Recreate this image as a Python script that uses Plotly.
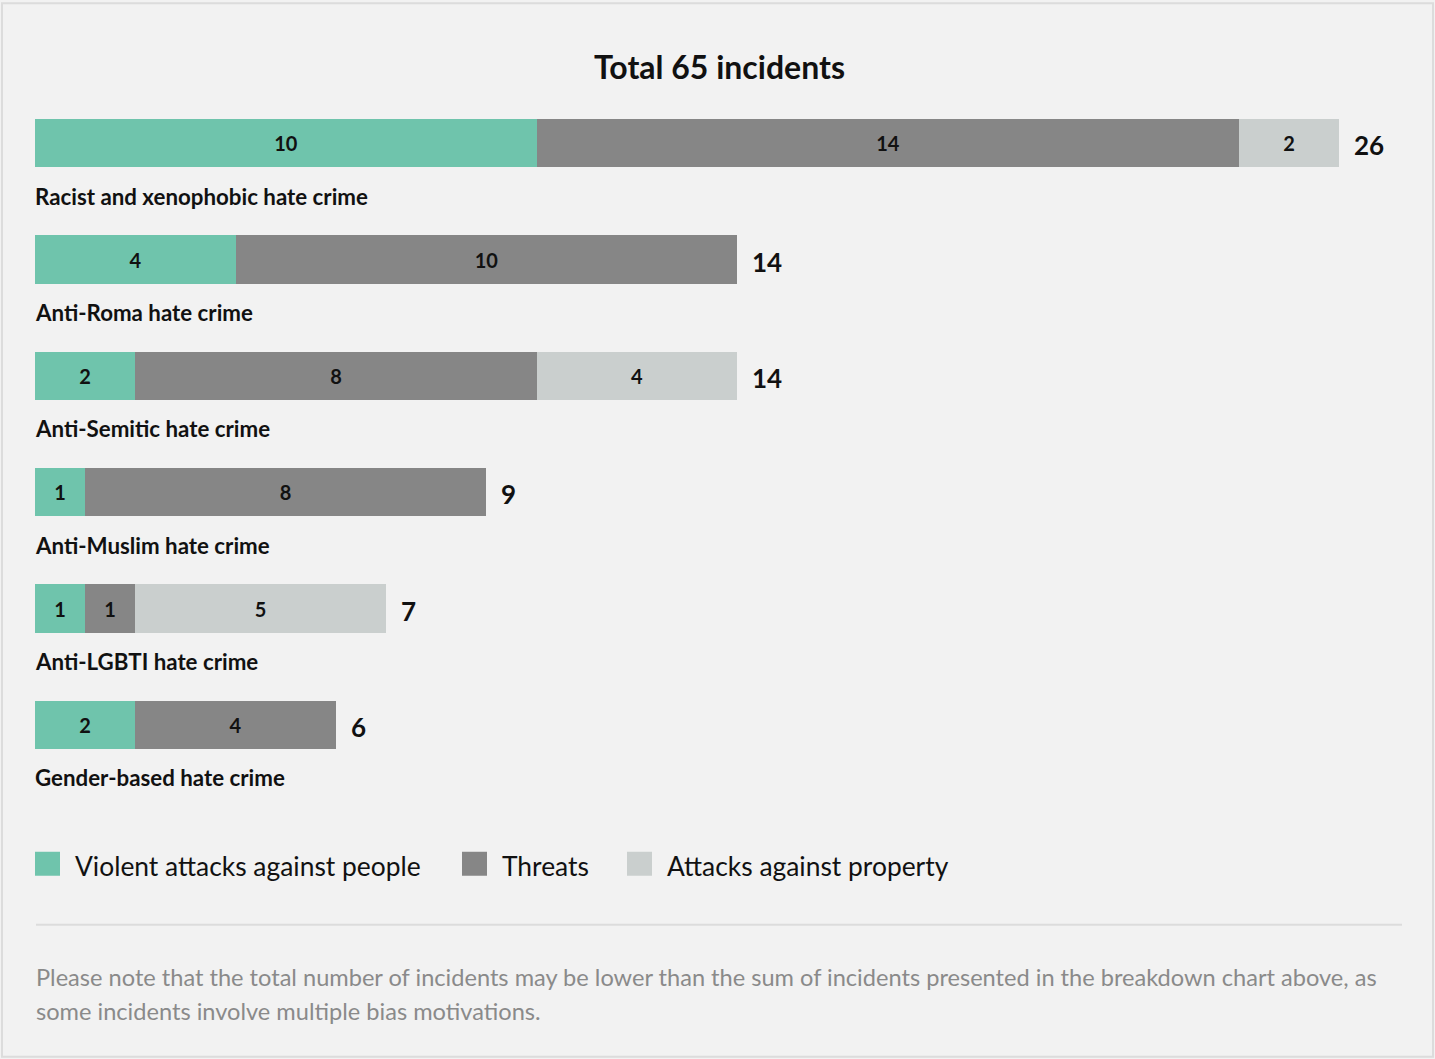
import plotly.graph_objects as go

categories = [
    "Racist and xenophobic hate crime",
    "Anti-Roma hate crime",
    "Anti-Semitic hate crime",
    "Anti-Muslim hate crime",
    "Anti-LGBTI hate crime",
    "Gender-based hate crime",
]
violent = [10, 4, 2, 1, 1, 2]
threats = [14, 10, 8, 8, 1, 4]
property_ = [2, 0, 4, 0, 5, 0]
totals = [26, 14, 14, 9, 7, 6]
series_names = ["Violent attacks against people", "Threats", "Attacks against property"]
series_colors = ["#6fc4ac", "#868686", "#cacfce"]
title_text = "Total 65 incidents"
note_lines = [
    "Please note that the total number of incidents may be lower than the sum of incidents presented in the breakdown chart above, as",
    "some incidents involve multiple bias motivations.",
]

FONT = "Lato, 'Noto Sans', sans-serif"
W, H = 1435, 1059
L, R = 35, 1339          # plot area x pixels
T, B = 84.8, 783.2       # plot area y pixels


def px(x):
    return (x - L) / (R - L)


def py(y):
    return (B - y) / (B - T)


ypos = list(range(len(categories)))
fig = go.Figure()
for vals, name, col in zip([violent, threats, property_], series_names, series_colors):
    fig.add_trace(go.Bar(
        x=vals, y=ypos, orientation="h", name=name,
        marker=dict(color=col, line=dict(width=0)),
        width=0.415,
        text=[str(v) if v else "" for v in vals],
        textposition="inside", insidetextanchor="middle",
        textfont=dict(family=FONT, size=20, color="#111111", weight="bold"),
        textangle=0,
        showlegend=False,
        hoverinfo="skip",
    ))

annotations = []
for i, (cat, tot) in enumerate(zip(categories, totals)):
    annotations.append(dict(x=tot, y=i, xref="x", yref="y", text=str(tot), showarrow=False,
                            xanchor="left", yanchor="middle", xshift=13, yshift=-2,
                            font=dict(family=FONT, size=26, color="#111111", weight="bold")))
    annotations.append(dict(x=0, y=i, xref="x", yref="y", text=cat, showarrow=False,
                            xanchor="left", yanchor="middle", yshift=-53, xshift=-2,
                            font=dict(family=FONT, size=22.3, color="#111111", weight="bold")))

annotations.append(dict(x=px(719), y=py(66), xref="paper", yref="paper", text=title_text,
                        showarrow=False, xanchor="center", yanchor="middle",
                        font=dict(family=FONT, size=32, color="#111111", weight="bold")))

shapes = [
    dict(type="rect", xref="paper", yref="paper", x0=px(2), x1=px(1433), y0=py(3), y1=py(1057),
         line=dict(color="#dcdcdc", width=2), fillcolor="rgba(0,0,0,0)", layer="below"),
    dict(type="line", xref="paper", yref="paper", x0=px(36), x1=px(1402), y0=py(925), y1=py(925),
         line=dict(color="#dcdcdc", width=2)),
]

legend_sq_x = [35, 462, 627]
legend_txt_x = [73, 500, 665]
for name, col, sx, tx in zip(series_names, series_colors, legend_sq_x, legend_txt_x):
    shapes.append(dict(type="rect", xref="paper", yref="paper", x0=px(sx), x1=px(sx + 25),
                       y0=py(876), y1=py(852), fillcolor=col, line=dict(width=0)))
    annotations.append(dict(x=px(tx), y=py(866), xref="paper", yref="paper", text=name,
                            showarrow=False, xanchor="left", yanchor="middle",
                            font=dict(family=FONT, size=26.4, color="#111111")))

for j, line in enumerate(note_lines):
    annotations.append(dict(x=px(34), y=py(977 + 34 * j), xref="paper", yref="paper", text=line,
                            showarrow=False, xanchor="left", yanchor="middle", align="left",
                            font=dict(family=FONT, size=23.6, color="#8a8a8a")))

fig.update_layout(
    width=W, height=H,
    margin=dict(l=L, r=W - R, t=T, b=H - B, pad=0),
    paper_bgcolor="#f2f2f2", plot_bgcolor="#f2f2f2",
    barmode="stack", bargap=0,
    xaxis=dict(range=[0, 26], visible=False, fixedrange=True),
    yaxis=dict(range=[5.5, -0.5], visible=False, fixedrange=True),
    annotations=annotations, shapes=shapes,
    uniformtext=dict(minsize=10, mode="show"),
    font=dict(family=FONT),
)

fig.write_html("out.html", post_script="document.body.style.margin='0';", config={"displayModeBar": False})
